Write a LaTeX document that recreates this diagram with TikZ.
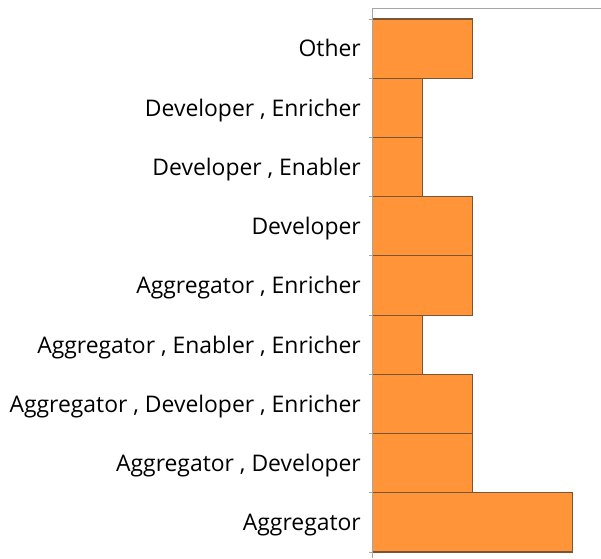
\documentclass[tikz,border=0pt]{standalone}
\usepackage{fontspec}
\setmainfont{Open Sans}
\definecolor{barfill}{HTML}{FF9438}
\definecolor{barline}{HTML}{7A5534}
\definecolor{axisgray}{HTML}{A6A6A6}
\begin{document}
\begin{tikzpicture}[x=1pt,y=-1pt,
  bar/.style={fill=barfill,draw=barline,line width=1.2pt},
  axisline/.style={draw=axisgray,line width=1.3pt},
  lbl/.style={anchor=base east,inner sep=0pt,font=\fontsize{22.9}{26}\selectfont}]
\useasboundingbox (0,0) rectangle (601,558);
\def\bh{59.22}
\foreach \v/\t [count=\i from 0] in {2/Other,1/{Developer , Enricher},1/{Developer , Enabler},2/Developer,2/{Aggregator , Enricher},1/{Aggregator , Enabler , Enricher},2/{Aggregator , Developer , Enricher},2/{Aggregator , Developer},4/Aggregator}{
  \pgfmathsetmacro\ytop{19+\i*\bh}
  \pgfmathsetmacro\ybot{19+(\i+1)*\bh}
  \pgfmathsetmacro\xr{372.7+\v*49.9}
  \draw[bar] (372.7,\ytop) rectangle (\xr,\ybot);
  \node[lbl] (l\i) at (361,{(\ytop+\ybot)/2+8.3}) {\t};
  \draw[axisgray,line width=1pt] (369,\ytop) -- (372.7,\ytop);
}
\draw[axisgray,line width=1pt] (369,552) -- (372.7,552);
\draw[axisline] (601,8.7) -- (372.7,8.7) -- (372.7,558);
\end{tikzpicture}
\end{document}
